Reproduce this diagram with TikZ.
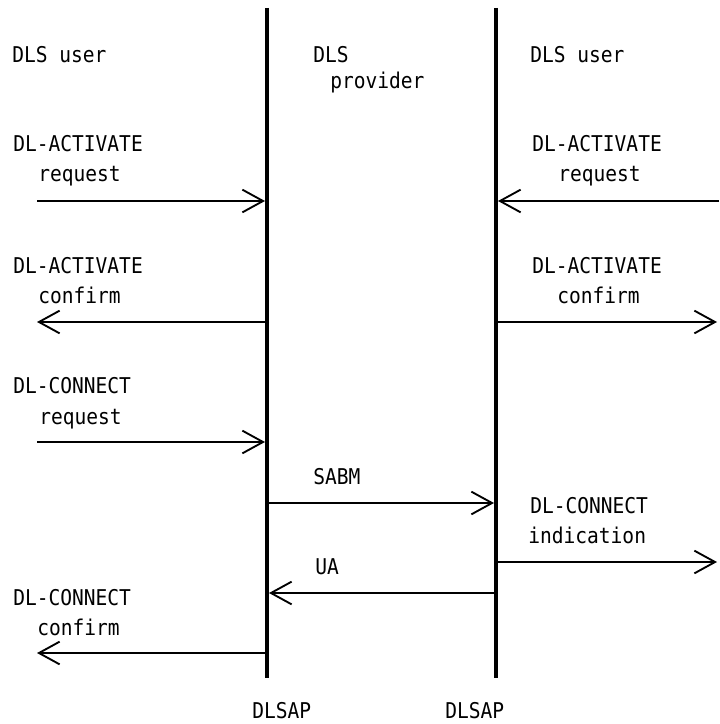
\documentclass[tikz,border=0pt]{standalone}
\usepackage{fontspec}
\newfontfamily\seqfont[FakeStretch=0.9]{DejaVu Sans Mono}
\usetikzlibrary{arrows.meta}
\begin{document}
\begin{tikzpicture}[x=0.75pt,y=-0.75pt,
  lbl/.style={anchor=base west,inner sep=0pt,font=\seqfont\fontsize{16.3pt}{19pt}\selectfont},
  lifeline/.style={line width=3.2pt},
  msg/.style={line width=1.4pt,-{Straight Barb[length=15.5pt,width=17pt,line width=1.4pt]}}]
\useasboundingbox (0,0) rectangle (719,724);

% lifelines of the two service access points
\coordinate (Ltop) at (267,8);   \coordinate (Lbot) at (267,678);
\coordinate (Rtop) at (496,8);   \coordinate (Rbot) at (496,678);
\draw[lifeline] (Ltop) -- (Lbot);
\draw[lifeline] (Rtop) -- (Rbot);

% column headings
\node[lbl] (huL) at (12,63) {DLS user};
\node[lbl] (hp1) at (313,63) {DLS};
\node[lbl] (hp2) at (330,89) {provider};
\node[lbl] (huR) at (530,63) {DLS user};

% arrow end points
\coordinate (a1s) at (37,201);  \coordinate (a1e) at (265,201);
\coordinate (b1s) at (719,201); \coordinate (b1e) at (498,201);
\coordinate (a2s) at (269,322); \coordinate (a2e) at (37,322);
\coordinate (b2s) at (498,322); \coordinate (b2e) at (717,322);
\coordinate (a3s) at (37,442);  \coordinate (a3e) at (265,442);
\coordinate (m1s) at (269,503); \coordinate (m1e) at (494,503);
\coordinate (b3s) at (498,562); \coordinate (b3e) at (717,562);
\coordinate (m2s) at (494,593); \coordinate (m2e) at (269,593);
\coordinate (a4s) at (265,653); \coordinate (a4e) at (37,653);

% DL-ACTIVATE request
\node[lbl] (t1a) at (13,151) {DL-ACTIVATE};
\node[lbl] (t1b) at (38,181) {request};
\draw[msg] (a1s) -- (a1e);
\node[lbl] (u1a) at (532,151) {DL-ACTIVATE};
\node[lbl] (u1b) at (558,181) {request};
\draw[msg] (b1s) -- (b1e);

% DL-ACTIVATE confirm
\node[lbl] (t2a) at (13,273) {DL-ACTIVATE};
\node[lbl] (t2b) at (38,303) {confirm};
\draw[msg] (a2s) -- (a2e);
\node[lbl] (u2a) at (532,273) {DL-ACTIVATE};
\node[lbl] (u2b) at (557,303) {confirm};
\draw[msg] (b2s) -- (b2e);

% DL-CONNECT request
\node[lbl] (t3a) at (13,393) {DL-CONNECT};
\node[lbl] (t3b) at (39,424) {request};
\draw[msg] (a3s) -- (a3e);

% SABM frame
\node[lbl] (sabm) at (313,484) {SABM};
\draw[msg] (m1s) -- (m1e);

% DL-CONNECT indication
\node[lbl] (u3a) at (530,513) {DL-CONNECT};
\node[lbl] (u3b) at (528,543) {indication};
\draw[msg] (b3s) -- (b3e);

% UA frame
\node[lbl] (ua) at (315,574) {UA};
\draw[msg] (m2s) -- (m2e);

% DL-CONNECT confirm
\node[lbl] (t4a) at (13,605) {DL-CONNECT};
\node[lbl] (t4b) at (37,635) {confirm};
\draw[msg] (a4s) -- (a4e);

% access point labels
\node[lbl] (sapL) at (252,718) {DLSAP};
\node[lbl] (sapR) at (445,718) {DLSAP};
\end{tikzpicture}
\end{document}
